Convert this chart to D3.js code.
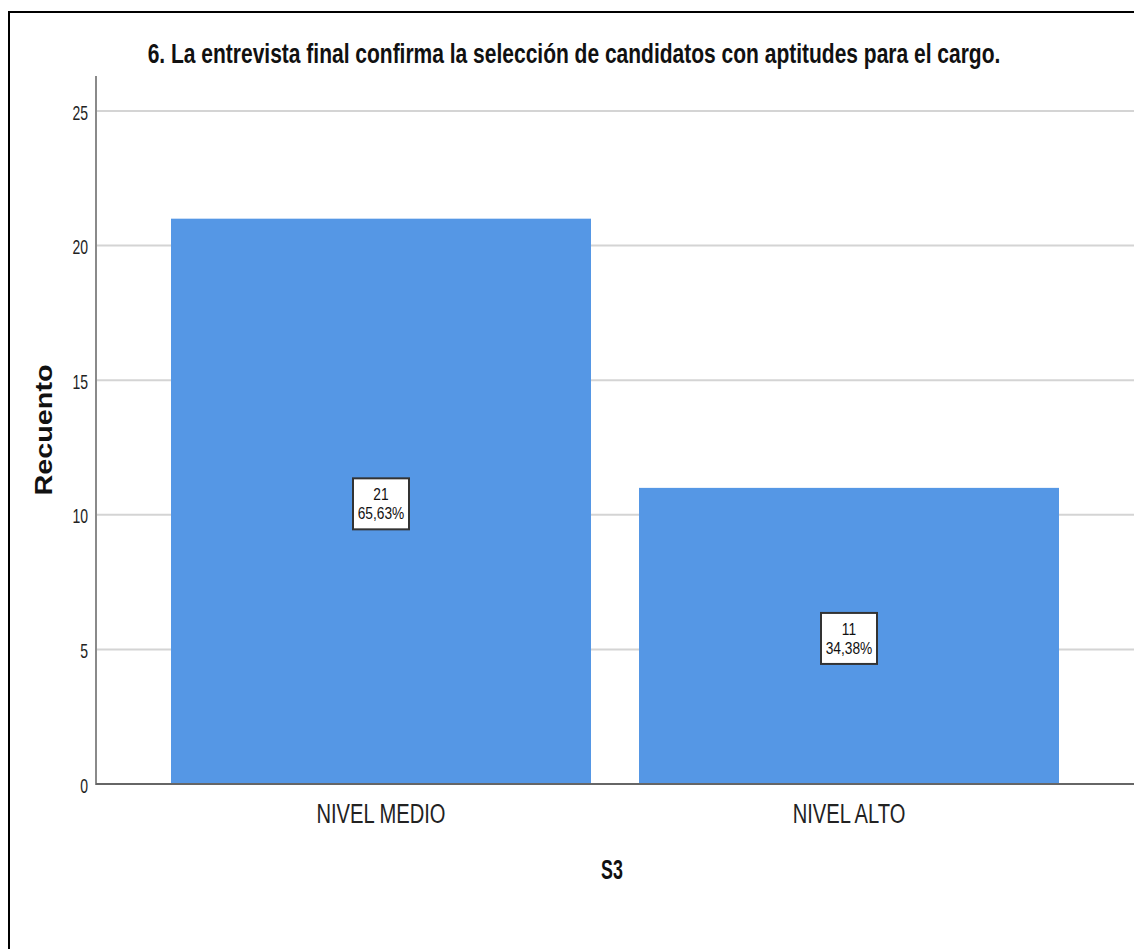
<!DOCTYPE html>
<html><head><meta charset="utf-8">
<script src="https://cdn.jsdelivr.net/npm/d3@7"></script>
<style>
body{margin:0;background:#fff;}
svg{display:block;}
text{font-family:"Liberation Sans Narrow","Liberation Sans",Arial,sans-serif;}
</style></head>
<body>
<svg id="c" width="1134" height="949"></svg>
<script>
const categories = ["NIVEL MEDIO", "NIVEL ALTO"];
const counts = [21, 11];
const percents = ["65,63%", "34,38%"];
const yTicks = [0, 5, 10, 15, 20, 25];

(function(){
const svg = d3.select("#c");
const W = 1134, H = 949;
const mLeft = 96, mRight = 1134, mTop = 76, mBottom = 784;

svg.append("rect").attr("x", 0).attr("y", 0).attr("width", W).attr("height", H).attr("fill", "#fff");
svg.append("path").attr("d", `M9,${H} V12 H${W}`).attr("fill", "none").attr("stroke", "#000").attr("stroke-width", 2);

const y = d3.scaleLinear().domain([0, 25]).range([mBottom, 111]);
const x = d3.scaleBand().domain(categories).range([mLeft, mRight]).paddingInner(48/468).paddingOuter(75/468);

function ctext(g, tx, ty, sx, size, weight, anchor, str) {
  return g.append("text")
    .attr("transform", `translate(${tx},${ty}) scale(${sx},1)`)
    .attr("text-anchor", anchor).attr("font-size", size).attr("font-weight", weight)
    .attr("fill", "#111").text(str);
}

// gridlines
svg.append("g").selectAll("line").data(yTicks.filter(d => d > 0)).join("line")
  .attr("x1", mLeft).attr("x2", mRight).attr("y1", d => y(d)).attr("y2", d => y(d))
  .attr("stroke", "#d4d4d4").attr("stroke-width", 2);

// bars
svg.append("g").selectAll("rect").data(categories).join("rect")
  .attr("x", d => x(d)).attr("width", x.bandwidth())
  .attr("y", (d, i) => y(counts[i])).attr("height", (d, i) => y(0) - y(counts[i]))
  .attr("fill", "#5597e5");

// y axis
const yAxis = svg.append("g").attr("transform", `translate(${mLeft},0)`)
  .call(d3.axisLeft(y).tickValues(yTicks).tickSize(0).tickPadding(8));
yAxis.select(".domain").remove();
yAxis.selectAll(".tick text")
  .attr("x", null).attr("dy", null).attr("y", 8)
  .attr("transform", "translate(-8,0) scale(0.7,1)")
  .attr("font-size", 20).attr("fill", "#222");
svg.append("line").attr("x1", mLeft).attr("x2", mLeft).attr("y1", mTop).attr("y2", mBottom + 1)
  .attr("stroke", "#8a8a8a").attr("stroke-width", 2);

// x axis
const xAxis = svg.append("g").attr("transform", `translate(0,${mBottom})`)
  .call(d3.axisBottom(x).tickSize(0));
xAxis.select(".domain").remove();
xAxis.selectAll(".tick text")
  .attr("y", null).attr("dy", null)
  .attr("transform", "translate(0,39) scale(0.72,1)")
  .attr("font-size", 28).attr("fill", "#222");
svg.append("line").attr("x1", mLeft).attr("x2", mRight).attr("y1", mBottom).attr("y2", mBottom)
  .attr("stroke", "#666").attr("stroke-width", 2);

// data labels
const lab = svg.append("g").selectAll("g").data(categories).join("g")
  .attr("transform", (d, i) => `translate(${x(d) + x.bandwidth()/2},${y(counts[i]/2)})`);
lab.append("rect").attr("x", -28).attr("y", -23).attr("width", 56).attr("height", 51)
  .attr("fill", "#fff").attr("stroke", "#333").attr("stroke-width", 2);
lab.each(function(d, i) {
  const g = d3.select(this);
  ctext(g, 0, -1, 0.86, 16, "normal", "middle", counts[i]);
  ctext(g, 0, 18, 0.86, 16, "normal", "middle", percents[i]);
});

// title
ctext(svg, 574, 63, 0.75, 28, "bold", "middle",
  "6. La entrevista final confirma la selección de candidatos con aptitudes para el cargo.");

// axis titles
ctext(svg, 612, 879, 0.66, 27, "bold", "middle", "S3");
svg.append("text").attr("transform", "translate(52,430) rotate(-90) scale(1.2,1)").attr("text-anchor", "middle")
  .attr("font-family", "'Liberation Sans', Arial, sans-serif")
  .attr("font-size", 24).attr("font-weight", "bold").attr("fill", "#111").text("Recuento");
})();
</script>
</body></html>
